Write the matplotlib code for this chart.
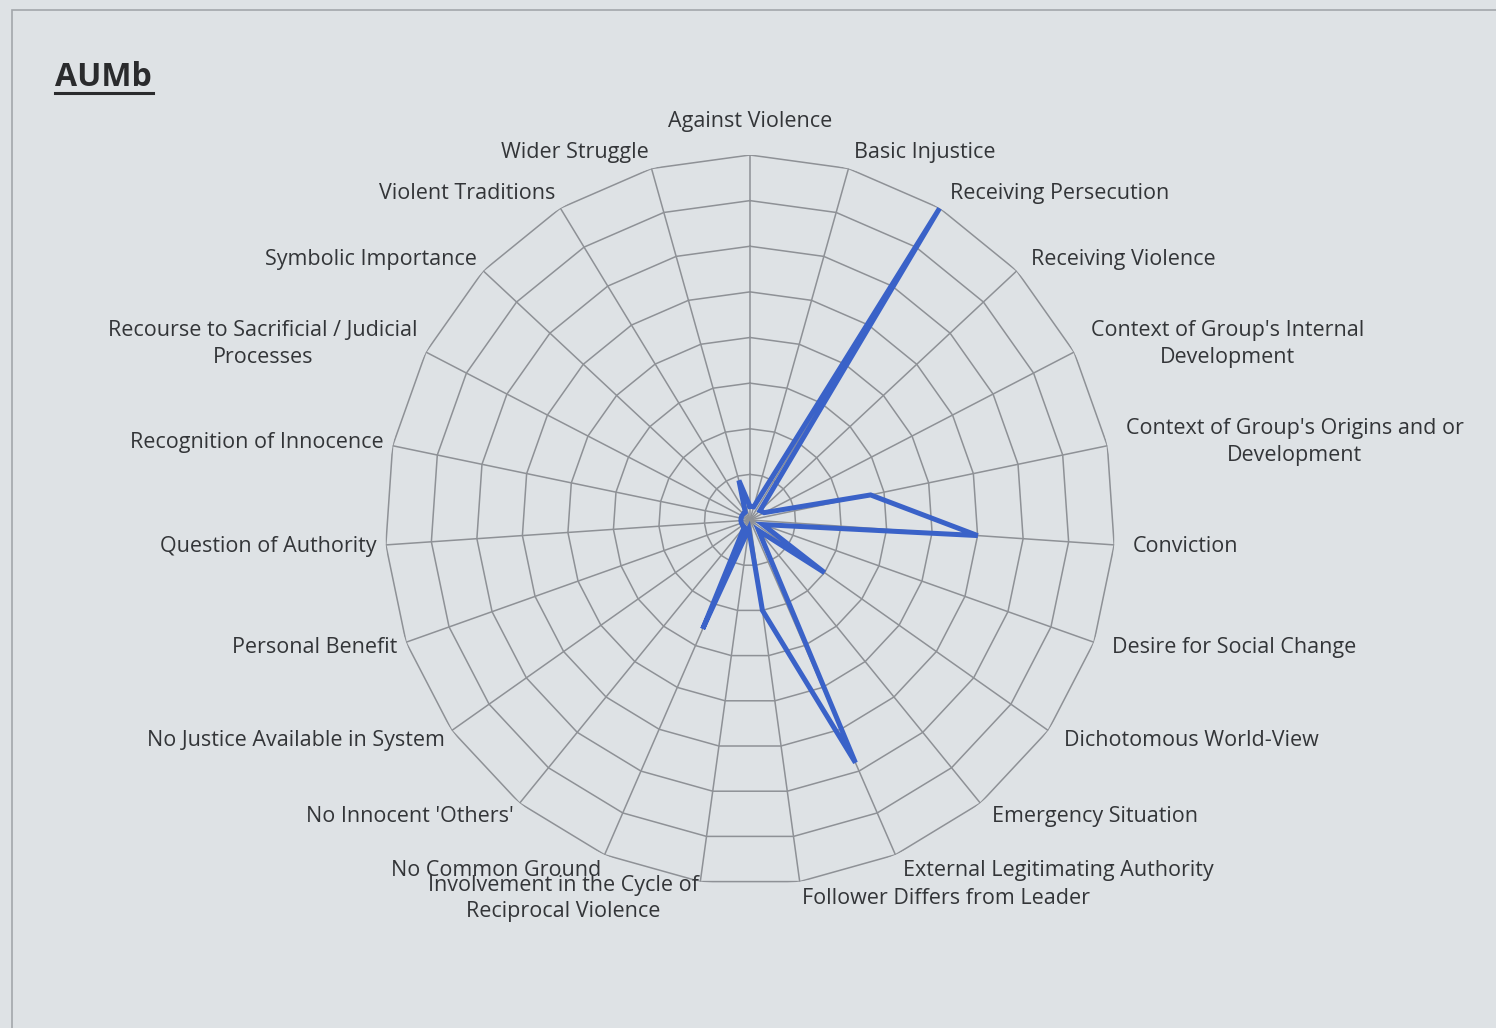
import numpy as np
import matplotlib
matplotlib.use('Agg')
import matplotlib.pyplot as plt
from matplotlib.lines import Line2D
from matplotlib.patches import Rectangle

plt.rcParams['font.family'] = ['Open Sans', 'DejaVu Sans']

# Categories clockwise from the top
categories = [
    'Against Violence', 'Basic Injustice', 'Receiving Persecution',
    'Receiving Violence', "Context of Group's Internal\nDevelopment",
    "Context of Group's Origins and or\nDevelopment", 'Conviction',
    'Desire for Social Change', 'Dichotomous World-View',
    'Emergency Situation', 'External Legitimating Authority',
    'Follower Differs from Leader',
    'Involvement in the Cycle of\nReciprocal Violence', 'No Common Ground',
    "No Innocent 'Others'", 'No Justice Available in System',
    'Personal Benefit', 'Question of Authority', 'Recognition of Innocence',
    'Recourse to Sacrificial / Judicial\nProcesses', 'Symbolic Importance',
    'Violent Traditions', 'Wider Struggle',
]
aumb = [0.3, 0.3, 8.0, 0.3, 0.35, 2.7, 5.0, 0.3, 2.0, 0.3, 5.8, 2.0,
        0.2, 2.6, 0.2, 0.2, 0.2, 0.2, 0.2, 0.2, 0.2, 0.2, 0.9]
rings = [1, 2, 3, 4, 5, 6, 7, 8]

bg = '#dee2e5'
grid_col = '#8e9196'
line_col = '#3a62c8'
text_col = '#333538'

n = len(categories)
theta = np.arange(n) * 2 * np.pi / n
theta_closed = np.append(theta, theta[0])

fig = plt.figure(figsize=(14.96, 10.28), dpi=100, facecolor=bg)

# slide frame
fig.add_artist(Rectangle((12 / 1496, -0.1), 1.2, (1028 - 10) / 1028 + 0.1,
                         transform=fig.transFigure, fill=False,
                         edgecolor='#a3a7ab', lw=1.2))

ax = fig.add_axes([385 / 1496, 143 / 1028, 730 / 1496, 730 / 1028],
                  projection='polar')
ax.set_theta_zero_location('N')
ax.set_theta_direction(-1)
ax.set_ylim(0, rings[-1])
ax.set_facecolor('none')
ax.grid(False)
ax.spines['polar'].set_visible(False)
ax.set_xticks([])
ax.set_yticks([])

# polygon web
for r in rings:
    ax.plot(theta_closed, [r] * (n + 1), color=grid_col, lw=1.1, zorder=1)
for t in theta:
    ax.plot([t, t], [0, rings[-1]], color=grid_col, lw=1.1, zorder=1)

# series
vals = np.append(aumb, aumb[0])
ax.plot(theta_closed, vals, color=line_col, lw=3.6, solid_joinstyle='miter',
        zorder=3)

# category labels round the web
for t, lab in zip(theta, categories):
    s, c = np.sin(t), np.cos(t)
    if abs(s) < 0.05:
        ha, dx, dy = 'center', 0, 33
    elif s > 0:
        ha, dx, dy = 'left', 19 * s, 17 * c
    else:
        ha, dx, dy = 'right', 9 * s, 17 * c
    ax.annotate(lab, xy=(t, rings[-1]), xytext=(dx, dy),
                textcoords='offset pixels', ha=ha, va='center',
                multialignment='center', fontsize=15.5, color=text_col,
                linespacing=1.35, annotation_clip=False)

# title with underline
fig.text(55 / 1496, 1 - 77 / 1028, 'AUMb', fontsize=23, fontweight='bold',
         color='#2a2b2d', ha='left', va='center')
fig.add_artist(Line2D([55 / 1496, 153 / 1496], [1 - 93 / 1028, 1 - 93 / 1028],
                      transform=fig.transFigure, color='#2a2b2d', lw=2.2))

fig.savefig('out.png', dpi=100, facecolor=bg)
